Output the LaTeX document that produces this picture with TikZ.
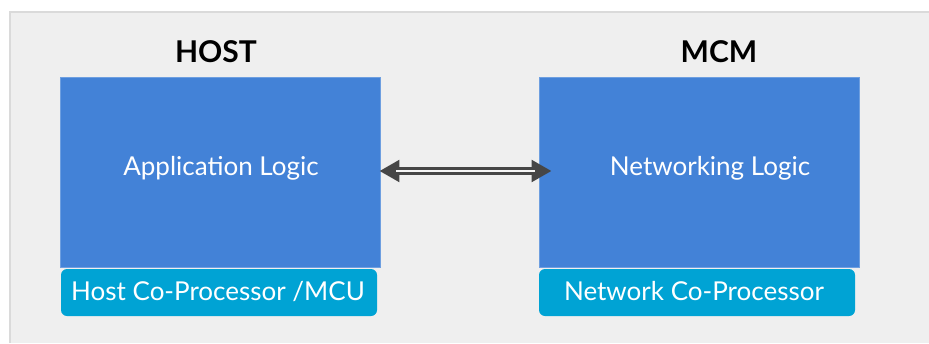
\documentclass[tikz,border=0pt]{standalone}
\usepackage{fontspec}
\setmainfont{Lato}
\usetikzlibrary{arrows.meta}
\definecolor{panelbg}{HTML}{EFEFEF}
\definecolor{panelline}{HTML}{DADADA}
\definecolor{logicblue}{HTML}{4382D7}
\definecolor{logicedge}{HTML}{6E9FE0}
\definecolor{cpucyan}{HTML}{00A3D4}
\definecolor{arrowgray}{HTML}{464646}
\tikzset{
  logicbox/.style={draw=logicedge, line width=0.8pt, fill=logicblue, minimum width=320pt, minimum height=190pt, inner sep=0pt},
  cpubox/.style={fill=cpucyan, rounded corners=6pt, minimum height=47pt, inner sep=0pt},
  boxtext/.style={text=white, font=\fontsize{26}{30}\selectfont, inner sep=0pt, anchor=base},
  titletext/.style={text=black, font=\bfseries\fontsize{30}{34}\selectfont, inner sep=0pt, anchor=base},
  linkarrow/.style={draw=arrowgray, line width=8pt, {Triangle[length=20pt,width=21pt]}-{Triangle[length=20pt,width=21pt]}},
  linkgap/.style={draw=panelbg!60!white, line width=2pt}
}
\begin{document}
\begin{tikzpicture}[x=1pt,y=-1pt]
\useasboundingbox (0,0) rectangle (929,343);
\fill[white] (0,0) rectangle (929,343);
\fill[panelbg] (10,12) rectangle (929,343);
\draw[panelline, line width=2pt] (10,343) -- (10,12) -- (929,12);

\node[titletext] (hosttitle) at (216,62) {HOST};
\node[titletext] (mcmtitle) at (719,62) {MCM};

\node[logicbox] (app) at (220,172) {};
\node[logicbox] (net) at (699,172) {};
\node[cpubox, minimum width=316pt] (hostcpu) at (219,292.5) {};
\node[cpubox, minimum width=316pt] (netcpu) at (697,292.5) {};

\node[boxtext] (applabel) at (221,175) {Application Logic};
\node[boxtext] (netlabel) at (710,175) {Networking Logic};
\node[boxtext] (hostcpulabel) at (218,300) {Host Co-Processor /MCU};
\node[boxtext] (netcpulabel) at (694,300) {Network Co-Processor};

\coordinate (la) at ([xshift=-1pt,yshift=1pt]app.east);
\coordinate (ra) at ([xshift=13pt,yshift=1pt]net.west);
\draw[linkarrow] (la) -- (ra);
\draw[linkgap] ([xshift=17pt]la) -- ([xshift=-17pt]ra);
\end{tikzpicture}
\end{document}
